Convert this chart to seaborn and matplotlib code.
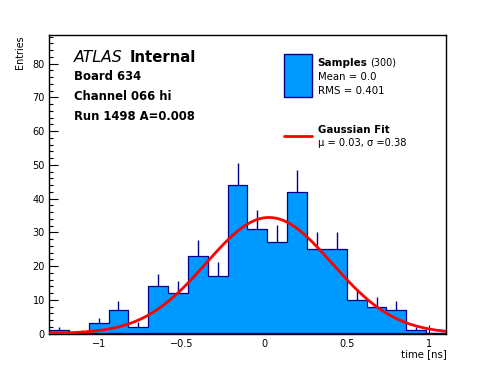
import numpy as np
import pandas as pd
import seaborn as sns
import matplotlib
matplotlib.use("Agg")
import matplotlib.pyplot as plt
from matplotlib.patches import Rectangle
from matplotlib.lines import Line2D
from matplotlib.ticker import MultipleLocator

# ---- data ----
bin_edges = [-1.30, -1.18, -1.06, -0.94, -0.82, -0.70, -0.58, -0.46, -0.34, -0.22,
             -0.10, 0.02, 0.14, 0.26, 0.38, 0.50, 0.62, 0.74, 0.86, 0.98, 1.10]
bin_counts = [1, 0, 3, 7, 2, 14, 12, 23, 17, 44,
              31, 27, 42, 25, 25, 10, 8, 7, 1, 0]
fit_mu = 0.03
fit_sigma = 0.38
fit_amplitude = 34.4
x_ticks = [-1, -0.5, 0, 0.5, 1]
x_tick_labels = ["\u22121", "\u22120.5", "0", "0.5", "1"]
y_ticks = [0, 10, 20, 30, 40, 50, 60, 70, 80]
header_lines = ["Board 634", "Channel 066 hi", "Run 1498 A=0.008"]
legend_samples = ("Samples", "(300)", "Mean = 0.0", "RMS = 0.401")
legend_fit = ("Gaussian Fit", "\u03bc = 0.03, \u03c3 =0.38")

sns.set_theme(style="white")
plt.rcParams['font.family'] = ['DejaVu Sans']
plt.rcParams['text.color'] = 'black'
plt.rcParams['axes.labelcolor'] = 'black'

FILL = "#0099ff"
EDGE = "#00008f"

edges = np.array(bin_edges)
counts = np.array(bin_counts, dtype=float)
centers = 0.5 * (edges[:-1] + edges[1:])
df = pd.DataFrame({"time": centers, "n": counts})

fig = plt.figure(figsize=(4.96, 3.72), dpi=100)
W, H = 496, 372
ax = fig.add_axes([49 / W, 1 - 333.5 / H, (446 - 49) / W, (333.5 - 35) / H])

# error bars (upper halves visible in the reference)
nz = df[df.n > 0]
ax.vlines(nz.time, nz.n, nz.n + np.sqrt(nz.n), color=EDGE, lw=1.0, zorder=1)

sns.histplot(data=df, x="time", weights="n", bins=list(bin_edges), element="step",
             fill=True, color=FILL, alpha=1.0, edgecolor=EDGE, linewidth=0.9,
             ax=ax, zorder=2)

xs = np.linspace(edges[0], edges[-1], 400)
ys = fit_amplitude * np.exp(-0.5 * ((xs - fit_mu) / fit_sigma) ** 2)
sns.lineplot(x=xs, y=ys, color="red", lw=2, ax=ax, zorder=3)

ax.set_xlim(edges[0], edges[-1])
ax.set_ylim(0, 88.5)
ax.set_xticks(x_ticks)
ax.set_xticklabels(x_tick_labels)
ax.set_yticks(y_ticks)
ax.xaxis.set_minor_locator(MultipleLocator(0.1))
ax.yaxis.set_minor_locator(MultipleLocator(2))
ax.tick_params(axis="both", which="both", direction="in", labelsize=7,
               colors="black", bottom=True, left=True, top=False, right=False)
ax.tick_params(which="major", length=6.5, width=0.8)
ax.tick_params(which="minor", length=3.2, width=0.8)
ax.tick_params(axis="x", pad=4.2)
ax.tick_params(axis="y", pad=3)
ax.set_xlabel("")
ax.set_ylabel("")
for s in ax.spines.values():
    s.set_color("black")
    s.set_linewidth(1.0)
ax.grid(False)

# axis titles
fig.text(19.5 / W, 1 - 35 / H, "Entries", rotation=90, ha="center", va="top", fontsize=6.9)
fig.text(447 / W, 1 - 349 / H, "time [ns]", ha="right", va="top", fontsize=7.3)

# ATLAS label
fig.text(73.5 / W, 1 - 62.5 / H, "ATLAS", style="italic", fontsize=11.3, va="baseline")
fig.text(130 / W, 1 - 62.5 / H, "Internal", weight="bold", fontsize=10.7, va="baseline")
for txt, yb in zip(header_lines, [80.5, 100, 119.5]):
    fig.text(74 / W, 1 - yb / H, txt, weight="bold", fontsize=8.4, va="baseline")

# legend
fig.patches.append(Rectangle((283.5 / W, 1 - 96.5 / H), 28 / W, 43 / H,
                             transform=fig.transFigure, facecolor=FILL,
                             edgecolor=EDGE, lw=1.0))
fig.text(317.5 / W, 1 - 65.5 / H, legend_samples[0], weight="bold", fontsize=7.5, va="baseline")
fig.text(370 / W, 1 - 65.5 / H, legend_samples[1], fontsize=7.0, va="baseline")
fig.text(317.5 / W, 1 - 79.5 / H, legend_samples[2], fontsize=7.3, va="baseline")
fig.text(317.5 / W, 1 - 94 / H, legend_samples[3], fontsize=7.4, va="baseline")
fig.lines.append(Line2D([283.5 / W, 311.5 / W], [1 - 136 / H, 1 - 136 / H],
                        transform=fig.transFigure, color="red", lw=2))
fig.text(317.5 / W, 1 - 133 / H, legend_fit[0], weight="bold", fontsize=7.4, va="baseline")
fig.text(317.5 / W, 1 - 145.5 / H, legend_fit[1], fontsize=7.1, va="baseline")

fig.savefig("out.png", dpi=100)
